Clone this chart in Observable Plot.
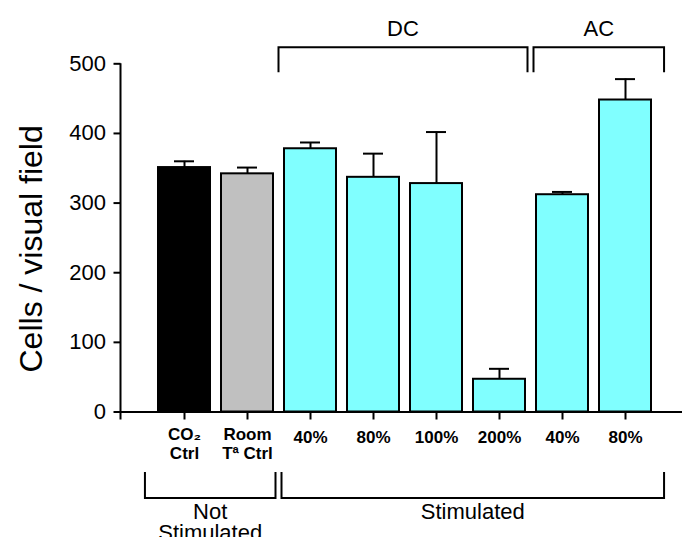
<!DOCTYPE html>
<html>
<head>
<meta charset="utf-8">
<script src="https://cdn.jsdelivr.net/npm/d3@7"></script>
<script src="https://cdn.jsdelivr.net/npm/@observablehq/plot@0.6"></script>
<style>
  html, body { margin: 0; padding: 0; background: #fff; }
  #chart svg { display: block; }
</style>
</head>
<body>
<div id="chart"></div>
<script>
// ---- data ----
const categories = ["CO2 Ctrl", "Room Tª Ctrl", "DC 40%", "DC 80%", "DC 100%", "DC 200%", "AC 40%", "AC 80%"];
const tickLabels = ["CO₂\nCtrl", "Room\nTª Ctrl", "40%", "80%", "100%", "200%", "40%", "80%"];
const conditions = ["CO₂ control", "Room Tª control", "Stimulated", "Stimulated", "Stimulated", "Stimulated", "Stimulated", "Stimulated"];
const means = [351, 342, 378, 337, 328, 47, 312, 448];
const sems = [9, 9, 9, 34, 74, 15, 4, 30];
const yTicks = [0, 100, 200, 300, 400, 500];
const yLabel = "Cells / visual field";
const topBrackets = [
  {label: "DC", from: "DC 40%", to: "DC 200%"},
  {label: "AC", from: "AC 40%", to: "AC 80%"}
];
const bottomBrackets = [
  {label: "Not\nStimulated", from: "CO2 Ctrl", to: "Room Tª Ctrl"},
  {label: "Stimulated", from: "DC 40%", to: "AC 80%"}
];

const data = categories.map((c, i) => ({
  category: c, label: tickLabels[i], condition: conditions[i],
  mean: means[i], upper: means[i] + sems[i]
}));

const font = "'Liberation Sans', Arial, Helvetica, sans-serif";

// custom annotation layer: y-axis line + group brackets, positioned from the x scale
function annotations(index, scales, values, dims) {
  const x = scales.x;
  const bw = typeof x.bandwidth === "function" ? x.bandwidth() : 0;
  const step = typeof x.step === "function" ? x.step() : (x(categories[1]) - x(categories[0]));
  const cx = c => x(c) + bw / 2;
  const first = categories[0], last = categories[categories.length - 1];
  const top = dims.marginTop, base = dims.height - dims.marginBottom, left = dims.marginLeft;
  const g = d3.create("svg:g");
  g.append("line")
    .attr("x1", left).attr("x2", left).attr("y1", top).attr("y2", base + 8)
    .attr("stroke", "black").attr("stroke-width", 2);
  function span(b, list) {
    let l = cx(b.from) - step / 2, r = cx(b.to) + step / 2;
    if (b.from === first) l -= step * 0.12;
    if (b.to === last) r += step * 0.12;
    const iTo = categories.indexOf(b.to), iFrom = categories.indexOf(b.from);
    if (list.some(o => o !== b && o.from === categories[iTo + 1])) r -= 3;
    if (list.some(o => o !== b && o.to === categories[iFrom - 1])) l += 3;
    return [l, r];
  }
  for (const b of topBrackets) {
    const [l, r] = span(b, topBrackets);
    const yh = top - 16, yl = top + 9;
    g.append("path").attr("d", `M${l},${yl}V${yh}H${r}V${yl}`)
      .attr("fill", "none").attr("stroke", "black").attr("stroke-width", 2);
    g.append("text").attr("x", (l + r) / 2).attr("y", top - 35).attr("dy", "0.35em")
      .attr("text-anchor", "middle").attr("font-size", 22).attr("font-family", font)
      .attr("fill", "black").text(b.label);
  }
  for (const b of bottomBrackets) {
    const [l, r] = span(b, bottomBrackets);
    const yh = base + 86.5, yl = base + 60.5;
    g.append("path").attr("d", `M${l},${yl}V${yh}H${r}V${yl}`)
      .attr("fill", "none").attr("stroke", "black").attr("stroke-width", 2);
    const t = g.append("text").attr("text-anchor", "middle").attr("font-size", 22)
      .attr("font-family", font).attr("fill", "black");
    b.label.split("\n").forEach((line, i) => {
      t.append("tspan").attr("x", (l + r) / 2).attr("y", yh + 13 + i * 21).attr("dy", "0.35em").text(line);
    });
  }
  return g.node();
}

const chart = Plot.plot({
  width: 682,
  height: 537,
  marginTop: 63.3,
  marginBottom: 125.5,
  marginLeft: 120.5,
  marginRight: 0,
  style: {fontFamily: font, background: "white", color: "black", overflow: "visible"},
  x: {domain: categories, range: [152.5, 657.5], paddingInner: 0.17, paddingOuter: 0.085, axis: null},
  y: {domain: [0, 500], axis: null},
  color: {domain: ["CO₂ control", "Room Tª control", "Stimulated"], range: ["#000000", "#c0c0c0", "#80ffff"]},
  marks: [
    Plot.axisY({ticks: yTicks, tickSize: 7, tickPadding: 8, fontSize: 22, strokeWidth: 2, tickFormat: d3.format("d"), label: null}),
    Plot.axisX({tickSize: 8, strokeWidth: 2, tickFormat: () => "", label: null}),
    Plot.ruleX(data, {x: "category", y1: "mean", y2: "upper", strokeWidth: 2}),
    Plot.tickY(data, {x: "category", y: "upper", strokeWidth: 2, insetLeft: 16, insetRight: 16}),
    Plot.barY(data, {x: "category", y: "mean", fill: "condition", stroke: "black", strokeWidth: 2}),
    Plot.ruleY([0], {strokeWidth: 2}),
    Plot.text(data.filter(d => !d.label.includes("\n")), {
      x: "category", text: "label", frameAnchor: "bottom", dy: 25.5,
      fontSize: 17, fontWeight: "bold", lineAnchor: "middle", fill: "black"
    }),
    Plot.text(data.filter(d => d.label.includes("\n")), {
      x: "category", text: "label", frameAnchor: "bottom", dy: 31.1, lineHeight: 1.15,
      fontSize: 17, fontWeight: "bold", lineAnchor: "middle", fill: "black"
    }),
    Plot.text([yLabel], {
      text: d => d, frameAnchor: "left", rotate: -90, dx: -89.5, dy: 11,
      fontSize: 32, textAnchor: "middle", lineAnchor: "middle", fill: "black"
    }),
    annotations
  ]
});

document.getElementById("chart").append(chart);
</script>
</body>
</html>
